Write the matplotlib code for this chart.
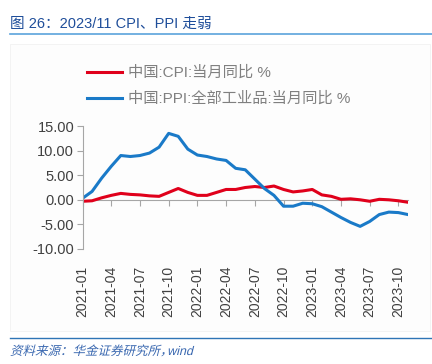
import matplotlib
matplotlib.use("Agg")
import matplotlib.pyplot as plt
from matplotlib.patches import Rectangle, PathPatch
from matplotlib.textpath import TextPath
from matplotlib.font_manager import FontProperties
from matplotlib.transforms import Affine2D

plt.rcParams['font.family'] = ['Liberation Sans', 'Noto Sans CJK SC', 'DejaVu Sans']

months = ["2021-01", "2021-02", "2021-03", "2021-04", "2021-05", "2021-06", "2021-07",
          "2021-08", "2021-09", "2021-10", "2021-11", "2021-12",
          "2022-01", "2022-02", "2022-03", "2022-04", "2022-05", "2022-06", "2022-07",
          "2022-08", "2022-09", "2022-10", "2022-11", "2022-12",
          "2023-01", "2023-02", "2023-03", "2023-04", "2023-05", "2023-06", "2023-07",
          "2023-08", "2023-09", "2023-10", "2023-11"]
cpi = [-0.3, -0.2, 0.4, 0.9, 1.3, 1.1, 1.0, 0.8, 0.7, 1.5, 2.3, 1.5,
       0.9, 0.9, 1.5, 2.1, 2.1, 2.5, 2.7, 2.5, 2.8, 2.1, 1.6, 1.8,
       2.1, 1.0, 0.7, 0.1, 0.2, 0.0, -0.3, 0.1, 0.0, -0.2, -0.5]
ppi = [0.3, 1.7, 4.4, 6.8, 9.0, 8.8, 9.0, 9.5, 10.7, 13.5, 12.9, 10.3,
       9.1, 8.8, 8.3, 8.0, 6.4, 6.1, 4.2, 2.3, 0.9, -1.3, -1.3, -0.7,
       -0.8, -1.4, -2.5, -3.6, -4.6, -5.4, -4.4, -3.0, -2.5, -2.6, -3.0]
tick_labels = months[::3]
yticks = [-10, -5, 0, 5, 10, 15]

W, H = 432, 364
fig = plt.figure(figsize=(W / 100, H / 100), dpi=100)

# title + rules
fig.text(10 / W, 1 - 24 / H, "图 26：2023/11 CPI、PPI 走弱", color="#1F4E9A",
         fontsize=10.5, va="center", ha="left",
         family=['Liberation Sans', 'Noto Sans CJK SC', 'DejaVu Sans'])
fig.add_artist(plt.Line2D([10 / W, 1], [1 - 34 / H] * 2, color="#5BA3DC", lw=1.2))
fig.add_artist(Rectangle((10 / W, 1 - 331 / H), 420 / W, 287 / H, facecolor="#FDFDFD",
                         edgecolor="#F2F2F2", lw=0.6, zorder=-5))
fig.add_artist(plt.Line2D([10 / W, 1], [1 - 338 / H] * 2, color="#2E75B6", lw=1.0))

# italic source line (CJK font has no italic, so shear a text path)
src_prop = FontProperties(family=['Noto Sans CJK SC'], size=9)
tp = TextPath((0, 0), "资料来源：华金证券研究所，", prop=src_prop)
tp2 = TextPath((0, 0), "wind", prop=FontProperties(family='Liberation Sans', size=9))
w1 = tp.get_extents().x1
sk = Affine2D().skew_deg(14, 0).scale(100 / 72)
fig.add_artist(PathPatch(tp, transform=sk + Affine2D().translate(10, H - 355),
                         facecolor="#3A68B0", edgecolor="none", lw=0))
fig.add_artist(PathPatch(tp2, transform=sk + Affine2D().translate(10 + w1 * 100 / 72 + 3, H - 355),
                         facecolor="#3A68B0", edgecolor="none", lw=0))

ax = fig.add_axes([82.5 / W, 1 - 249 / H, (408 - 82.5) / W, (249 - 126) / H])
ax.patch.set_alpha(0)
x = list(range(len(months)))
ax.plot(x, cpi, color="#E0001B", lw=2.2, label="中国:CPI:当月同比 %")
ax.plot(x, ppi, color="#1A7AC8", lw=2.2, label="中国:PPI:全部工业品:当月同比 %")

ax.set_xlim(0, len(months) - 1)
ax.set_ylim(-10, 15)
ax.set_yticks(yticks)
ax.set_yticklabels([f"{v:.2f}" for v in yticks], fontsize=10.5, color="#404040")
ax.tick_params(axis="y", length=4, color="#A6A6A6", pad=2)

for s in ["top", "right", "bottom"]:
    ax.spines[s].set_visible(False)
ax.spines["left"].set_color("#A6A6A6")

ax.set_xticks(x[::3])
ax.set_xticklabels(tick_labels, rotation=90, fontsize=10, color="#404040")
ax.tick_params(axis="x", length=0, pad=12)

sec = ax.secondary_xaxis(0.4)
sec.set_xticks(x[::3])
sec.tick_params(axis="x", direction="out", length=4, color="#A6A6A6", labelbottom=False)
sec.spines["bottom"].set_color("#A6A6A6")

leg = fig.legend(loc="upper left", bbox_to_anchor=(73 / W, 1 - 52 / H), frameon=False,
                 handlelength=2.3, handletextpad=0.4, labelspacing=0.75,
                 prop={'family': ['Liberation Sans', 'Noto Sans CJK SC', 'DejaVu Sans'], 'size': 11})
for t in leg.get_texts():
    t.set_color("#808080")

fig.savefig("out.png", dpi=100)
